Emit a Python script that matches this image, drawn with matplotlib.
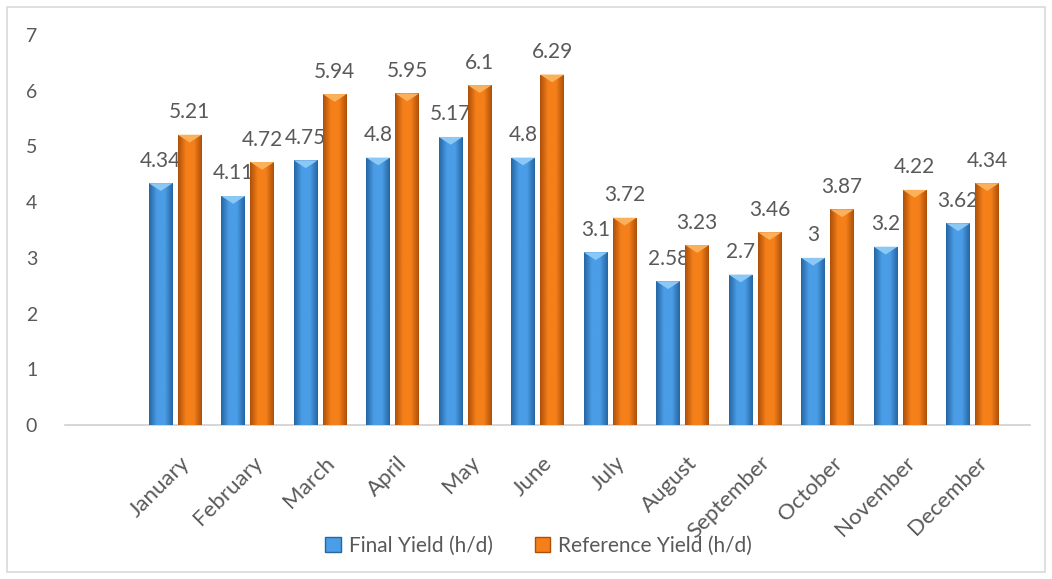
import matplotlib.pyplot as plt
import numpy as np
from matplotlib.patches import Patch, Polygon, Rectangle

plt.rcParams['font.family'] = ['Lato', 'DejaVu Sans']

months = ['January', 'February', 'March', 'April', 'May', 'June', 'July',
          'August', 'September', 'October', 'November', 'December']
final_yield = [4.34, 4.11, 4.75, 4.8, 5.17, 4.8, 3.1, 2.58, 2.7, 3, 3.2, 3.62]
reference_yield = [5.21, 4.72, 5.94, 5.95, 6.1, 6.29, 3.72, 3.23, 3.46, 3.87, 4.22, 4.34]
series_names = ['Final Yield (h/d)', 'Reference Yield (h/d)']

text_color = '#595959'
# (edge dark, center light, top bevel)
blue = ('#2566A3', '#4A9DE6', '#8CC8F5')
orange = ('#AE4F08', '#F5801A', '#FBB05A')

fig = plt.figure(figsize=(10.52, 5.79), dpi=100)
ax = fig.add_axes([0.0618, 0.266, 0.9172, 0.6736])

x = np.arange(len(months))
width = 0.33
offset = 0.2


def draw_bars(xpos, vals, cols):
    bars = ax.bar(xpos, vals, width, color=cols[1], edgecolor='none', zorder=2)
    cmap = plt.matplotlib.colors.LinearSegmentedColormap.from_list(
        'g', [cols[0], cols[1], cols[1], cols[0]])
    grad = np.linspace(0, 1, 64).reshape(1, -1)
    for b in bars:
        x0, w, h = b.get_x(), b.get_width(), b.get_height()
        im = ax.imshow(grad, cmap=cmap, aspect='auto', extent=(x0, x0 + w, 0, h),
                       zorder=3)
        im.set_clip_path(b)
        d = 0.14
        tri = Polygon([(x0, h), (x0 + w, h), (x0 + w * 0.5, h - d)],
                      closed=True, facecolor=cols[2], edgecolor='none', zorder=4)
        ax.add_patch(tri)
        ax.annotate(f'{h:g}', (x0 + w / 2, h), xytext=(0, 9), textcoords='offset points',
                    ha='center', va='bottom', fontsize=15, color=text_color)
    return bars


draw_bars(x - offset, final_yield, blue)
draw_bars(x + offset, reference_yield, orange)

ax.set_xlim(-1.52, 11.79)
ax.set_ylim(0, 7)
ax.set_yticks(range(0, 8))
ax.tick_params(axis='y', length=0, pad=20, labelsize=14, labelcolor=text_color)
ax.set_xticks(x + 0.06)
ax.set_xticklabels(months, rotation=45, ha='right', rotation_mode='anchor',
                   fontsize=16, color=text_color)
ax.tick_params(axis='x', length=0, pad=20)
for s in ['top', 'right', 'left']:
    ax.spines[s].set_visible(False)
ax.spines['bottom'].set_color('#D0D0D0')
ax.spines['bottom'].set_linewidth(1.2)

handles = [Patch(facecolor=blue[1], edgecolor=blue[0]),
           Patch(facecolor=orange[1], edgecolor=orange[0])]
fig.legend(handles, series_names, loc='center', bbox_to_anchor=(0.512, 0.058),
           ncol=2, frameon=False, fontsize=15, labelcolor=text_color,
           handlelength=0.75, handleheight=0.75, columnspacing=2.0, handletextpad=0.4)

fig.patches.append(Rectangle((0.007, 0.012), 0.986, 0.976, transform=fig.transFigure,
                             fill=False, edgecolor='#D9D9D9', linewidth=1.2))

fig.savefig('out.png', dpi=100)
